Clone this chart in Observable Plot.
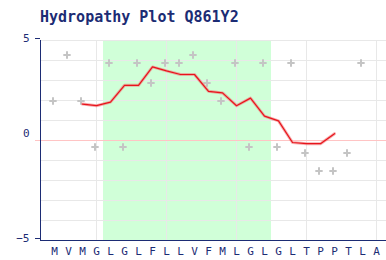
<!DOCTYPE html>
<html>
<head>
<meta charset="utf-8">
<script src="https://cdn.jsdelivr.net/npm/d3@7"></script>
<script src="https://cdn.jsdelivr.net/npm/@observablehq/plot@0.6"></script>
<style>
  html, body { margin: 0; padding: 0; background: #fff; }
  #wrap { position: relative; width: 386px; height: 260px; }
  #title { position: absolute; left: 40px; top: 10px; font: bold 15px "DejaVu Sans Mono", monospace; line-height: 15px; color: #1c2c74; white-space: nowrap; }
  svg { display: block; }
</style>
</head>
<body>
<div id="wrap">
  <div id="chart"></div>
  <div id="title">Hydropathy Plot Q861Y2</div>
</div>
<script>
// Protein sequence (one residue per x position)
const residues = ["M","V","M","G","L","G","L","F","L","L","V","F","M","L","G","L","G","L","T","P","P","T","L","A"];
// Per-residue hydropathy (gray markers; the last residue has no marker in the picture)
const hydropathy = [1.9,4.2,1.9,-0.4,3.8,-0.4,3.8,2.8,3.8,3.8,4.2,2.8,1.9,3.8,-0.4,3.8,-0.4,3.8,-0.7,-1.6,-1.6,-0.7,3.8];
// Sliding-window average (red line)
const windowPositions = [3,4,5,6,7,8,9,10,11,12,13,14,15,16,17,18,19,20,21];
const windowAverages = [1.82,1.74,1.92,2.76,2.76,3.68,3.48,3.30,3.30,2.46,2.38,1.74,2.12,1.22,0.98,-0.10,-0.16,-0.16,0.34];
// Predicted hydrophobic segment (residue numbers)
const segmentStart = 5;
const segmentEnd = 16;
// Axis ticks
const yTickValues = [5, -5];
const yZeroTick = [0];
const yGridValues = [-4,-3,-2,-1,1,2,3,4,5];
const xGridValues = [4, 9, 14, 19, 24];

const points = hydropathy.map((v, i) => ({pos: i + 1, res: residues[i], kd: v}));
const avg = windowPositions.map((p, i) => ({pos: p, v: windowAverages[i]}));
const segment = [{x1: segmentStart - 0.5, x2: segmentEnd + 0.5}];
const residuePositions = residues.map((r, i) => i + 1);

const navy = "#1c2c74";
const font = "DejaVu Sans Mono, monospace";

const chart = Plot.plot({
  width: 386,
  height: 260,
  marginLeft: 40,
  marginRight: 0,
  marginTop: 40,
  marginBottom: 20,
  style: {fontFamily: font, background: "transparent"},
  x: {domain: [0, 346 / 14], axis: null},
  y: {domain: [-5, 5], axis: null},
  marks: [
    Plot.rect(segment, {x1: "x1", x2: "x2", y1: -5, y2: 5, fill: "#d0ffd8"}),
    Plot.ruleY(yGridValues, {stroke: "#e8e8e8", strokeWidth: 1}),
    Plot.ruleX(xGridValues, {stroke: "#e8e8e8", strokeWidth: 1}),
    Plot.ruleY(yZeroTick, {stroke: "#ffc4c4", strokeWidth: 1, insetLeft: -5}),
    Plot.dot(points, {x: "pos", y: "kd", symbol: "plus", r: 2.5, stroke: "#c4c4c4", strokeWidth: 2, fill: "none", dx: -1.5, dy: -1.5}),
    Plot.line(avg, {x: "pos", y: "v", stroke: "#f07a7a", strokeWidth: 3, strokeOpacity: 0.6}),
    Plot.line(avg, {x: "pos", y: "v", stroke: "#e8141c", strokeWidth: 1.2}),
    Plot.ruleX([0], {stroke: navy, strokeWidth: 1}),
    Plot.ruleY([-5], {stroke: navy, strokeWidth: 1}),
    Plot.axisY(yTickValues, {tickSize: 5, tickPadding: 6, stroke: navy, fill: navy, fontSize: 11, dy: -2, label: null, tickFormat: d => d < 0 ? "\u2212" + (-d) : String(d)}),
    Plot.text(yZeroTick, {x: 0, y: d => d, text: d => String(d), textAnchor: "end", dx: -11, dy: -7, fill: navy, fontSize: 11, fontFamily: font}),
    Plot.axisX(residuePositions, {tickSize: 0, tickPadding: 7, fill: navy, fontSize: 11, label: null, tickFormat: p => residues[p - 1]})
  ]
});
document.getElementById("chart").appendChild(chart);
</script>
</body>
</html>
